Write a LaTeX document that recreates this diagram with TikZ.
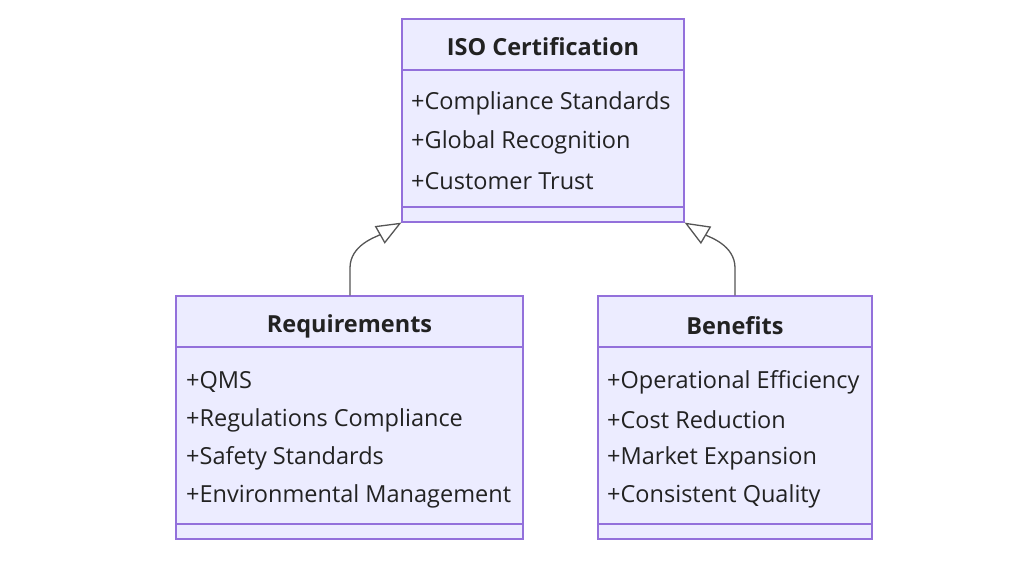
\documentclass[tikz,border=0pt]{standalone}
\usepackage{fontspec}
\setmainfont{Open Sans}
\usetikzlibrary{arrows.meta, positioning}

\definecolor{umlfill}{HTML}{ECECFF}
\definecolor{umlline}{HTML}{9370DB}
\definecolor{umltext}{HTML}{222222}
\definecolor{umlarrow}{HTML}{555555}

\begin{document}
\begin{tikzpicture}[
  x=1pt, y=-1pt,
  font=\fontsize{23.5}{28}\selectfont,
  classbox/.style={draw=umlline, fill=umlfill, line width=1.2pt, inner sep=0pt},
  divider/.style={draw=umlline, line width=1.2pt},
  title/.style={font=\fontsize{23.5}{28}\selectfont\bfseries, text=umltext, inner sep=0pt},
  member/.style={anchor=west, text=umltext, inner sep=0pt},
  inherit/.style={draw=umlarrow, line width=1.3pt, -{Triangle[open, length=25pt, width=20pt, fill=white]}}]

\useasboundingbox (0,0) rectangle (1024,569);

% ---------- class boxes
\node[classbox, minimum width=282pt, minimum height=203pt] (iso) at (543,120.5) {};
\node[classbox, minimum width=347pt, minimum height=243pt] (req) at (349.5,417.5) {};
\node[classbox, minimum width=274pt, minimum height=243pt] (ben) at (735,417.5) {};

% ---------- compartments
\draw[divider] (iso.west |- 0,70) -- (iso.east |- 0,70);
\draw[divider] (iso.west |- 0,207) -- (iso.east |- 0,207);
\draw[divider] (req.west |- 0,347) -- (req.east |- 0,347);
\draw[divider] (req.west |- 0,524) -- (req.east |- 0,524);
\draw[divider] (ben.west |- 0,347) -- (ben.east |- 0,347);
\draw[divider] (ben.west |- 0,524) -- (ben.east |- 0,524);

% ---------- titles
\node[title] (isoT) at (543,47) {ISO Certification};
\node[title] (reqT) at (349.5,326) {Requirements};
\node[title] (benT) at (735,326) {Benefits};

% ---------- members
\node[member] (iso1) at (411,103) {+Compliance Standards};
\node[member] (iso2) at (411,142) {+Global Recognition};
\node[member] (iso3) at (411,181) {+Customer Trust};

\node[member] (req1) at (186,382) {+QMS};
\node[member] (req2) at (186,420) {+Regulations Compliance};
\node[member] (req3) at (186,458) {+Safety Standards};
\node[member] (req4) at (186,496) {+Environmental Management};

\node[member] (ben1) at (607,382) {+Operational Efficiency};
\node[member] (ben2) at (607,420) {+Cost Reduction};
\node[member] (ben3) at (607,458) {+Market Expansion};
\node[member] (ben4) at (607,496) {+Consistent Quality};

% ---------- inheritance
\coordinate (reqTop) at (req.north -| 350,0);
\coordinate (benTop) at (ben.north -| 735,0);
\draw[inherit] (reqTop) -- (350,268) .. controls (350,245) and (376,237) .. (iso.south west);
\draw[inherit] (benTop) -- (735,268) .. controls (735,245) and (709,237) .. (iso.south east);
\end{tikzpicture}
\end{document}
